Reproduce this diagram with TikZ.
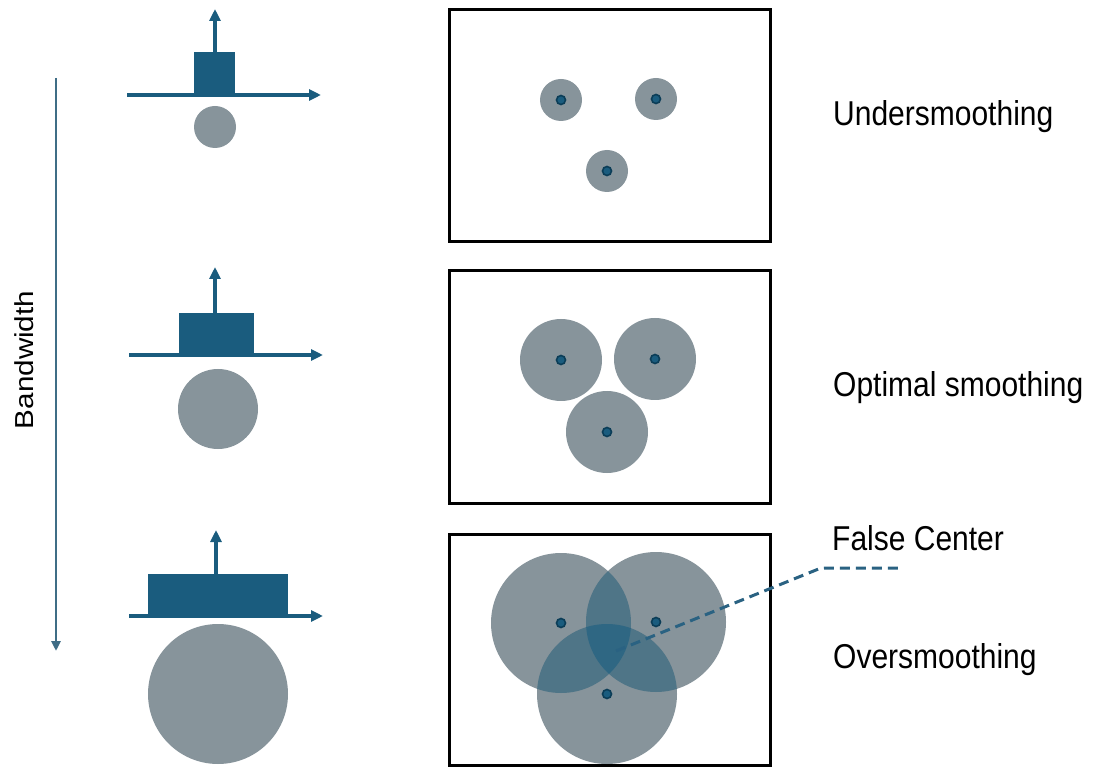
\documentclass[tikz,border=0pt]{standalone}
\usepackage{fontspec}
\setmainfont{Liberation Sans}
\usetikzlibrary{arrows.meta}
\definecolor{kblue}{HTML}{1A5C7E}
\definecolor{bwblue}{HTML}{3F6D86}
\definecolor{cgray}{HTML}{87949B}
\definecolor{cdouble}{HTML}{4F7587}
\definecolor{ctriple}{HTML}{2F6783}
\definecolor{dotblue}{HTML}{1A5C7E}
\definecolor{dotring}{HTML}{0B3D57}
\definecolor{dashblue}{HTML}{2A6282}
\begin{document}
\begin{tikzpicture}[x=1pt,y=-1pt,
  axis/.style={kblue, line width=3.5pt, -{Triangle[length=12pt,width=11pt]}},
  krect/.style={fill=kblue},
  blob/.style={fill=cgray},
  frame/.style={draw=black, line width=3pt},
  dot/.style={circle, fill=dotblue, draw=dotring, line width=1.6pt, inner sep=0pt, minimum size=9pt},
  lab/.style={anchor=base west, inner sep=0pt, font=\fontsize{30}{36}\selectfont}]
\useasboundingbox (0,0) rectangle (1093,767);

% bandwidth arrow
\coordinate (bwtop) at (56,78);
\coordinate (bwbot) at (56,651);
\draw[bwblue, line width=2.5pt, -{Triangle[length=10pt,width=9pt]}] (bwtop) -- (bwbot);
\node[rotate=90, inner sep=0pt, font=\fontsize{26}{30}\selectfont] (bw) at (24,360) {\scalebox{1.14}[1]{Bandwidth}};

% kernel 1
\fill[krect] (194,52) rectangle (235,95);
\coordinate (a1l) at (127,95); \coordinate (a1r) at (321,95);
\draw[axis] (a1l) -- (a1r);
\coordinate (v1b) at (215,52); \coordinate (v1t) at (215,9);
\draw[axis] (v1b) -- (v1t);
\fill[blob] (215,127) circle[radius=21pt];

% kernel 2
\fill[krect] (179,313) rectangle (254,355);
\coordinate (a2l) at (129,355); \coordinate (a2r) at (323,355);
\draw[axis] (a2l) -- (a2r);
\coordinate (v2b) at (215,313); \coordinate (v2t) at (215,267);
\draw[axis] (v2b) -- (v2t);
\fill[blob] (218,409) circle[radius=40pt];

% kernel 3
\fill[krect] (148,574) rectangle (288,616);
\coordinate (a3l) at (129,616); \coordinate (a3r) at (323,616);
\draw[axis] (a3l) -- (a3r);
\coordinate (v3b) at (216,574); \coordinate (v3t) at (216,530);
\draw[axis] (v3b) -- (v3t);
\fill[blob] (218,694) circle[radius=70pt];

% frame 1
\draw[frame] (449,10) rectangle (770,242);
\fill[blob] (561,100) circle[radius=21pt];
\fill[blob] (656,99) circle[radius=21pt];
\fill[blob] (607,171) circle[radius=21pt];
\node[dot] (p11) at (561,100) {};
\node[dot] (p12) at (656,99) {};
\node[dot] (p13) at (607,171) {};

% frame 2
\draw[frame] (449,271) rectangle (770,503);
\fill[blob] (561,360) circle[radius=41pt];
\fill[blob] (655,359) circle[radius=41pt];
\fill[blob] (607,432) circle[radius=41pt];
\node[dot] (p21) at (561,360) {};
\node[dot] (p22) at (655,359) {};
\node[dot] (p23) at (607,432) {};

% frame 3
\draw[frame] (449,534) rectangle (770,765);
\coordinate (A) at (561,623);
\coordinate (B) at (656,622);
\coordinate (C) at (607,694);
\fill[blob] (A) circle[radius=70pt];
\fill[blob] (B) circle[radius=70pt];
\fill[blob] (C) circle[radius=70pt];
\begin{scope}
  \clip (A) circle[radius=70pt];
  \fill[cdouble] (B) circle[radius=70pt];
  \fill[cdouble] (C) circle[radius=70pt];
\end{scope}
\begin{scope}
  \clip (B) circle[radius=70pt];
  \fill[cdouble] (C) circle[radius=70pt];
\end{scope}
\begin{scope}
  \clip (A) circle[radius=70pt];
  \clip (B) circle[radius=70pt];
  \fill[ctriple] (C) circle[radius=70pt];
\end{scope}
\node[dot] (p31) at (A) {};
\node[dot] (p32) at (B) {};
\node[dot] (p33) at (C) {};

% false center
\coordinate (fc) at (616,651);
\coordinate (fk) at (821,568);
\coordinate (fe) at (898,568);
\draw[dashblue, line width=3pt, dash pattern=on 10pt off 6pt, rounded corners=3pt] (fc) -- (fk) -- (fe);

% labels
\node[lab] (l1) at (833,126) {\scalebox{1}[1.15]{Undersmoothing}};
\node[lab] (l2) at (833,397) {\scalebox{1}[1.15]{Optimal smoothing}};
\node[lab] (l3) at (832,550) {\scalebox{1}[1.15]{False Center}};
\node[lab] (l4) at (833,668) {\scalebox{1}[1.15]{Oversmoothing}};
\end{tikzpicture}
\end{document}
